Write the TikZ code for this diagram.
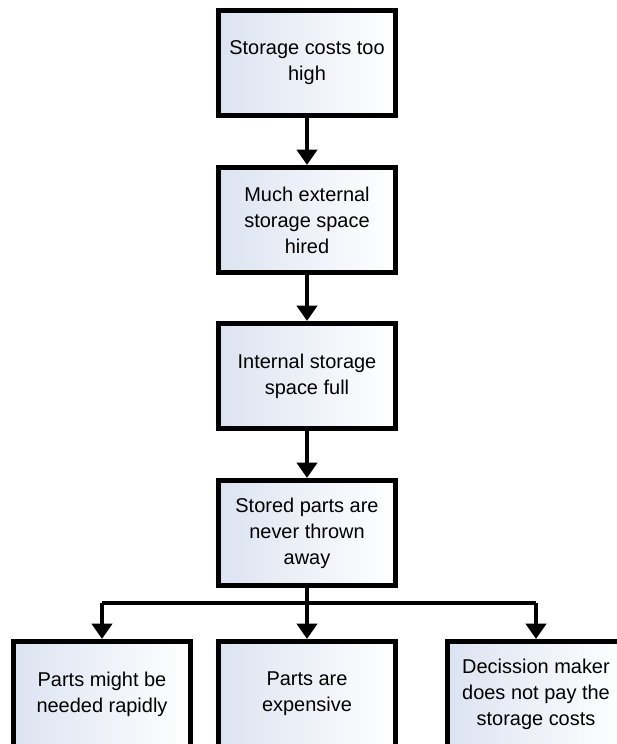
\documentclass[tikz,border=0pt]{standalone}
\usepackage{fontspec}
\setmainfont{Liberation Sans}
\usetikzlibrary{arrows.meta}
\definecolor{boxtint}{HTML}{DCE3F1}

\begin{document}
\begin{tikzpicture}[>={Triangle[length=3.8mm, width=5mm]},
  font=\fontsize{14.2}{18.5}\selectfont,
  cause/.style={draw, line width=3.5pt, minimum width=44.2mm, minimum height=26.3mm,
    align=center, inner sep=2pt, left color=boxtint, right color=white},
  link/.style={line width=2.6pt}]
\useasboundingbox (0,0) rectangle (15.4,-18.6);

%% ===================== main chain =====================
\node[cause] (costs)    at (7.675,-1.575)  {Storage costs too\\high};
\node[cause] (external) at (7.675,-5.5)    {Much external\\storage space\\hired};
\node[cause] (internal) at (7.675,-9.4)    {Internal storage\\space full};
\node[cause] (stored)   at (7.675,-13.325) {Stored parts are\\never thrown\\away};

\draw[link, ->] (costs.south)    -- (external.north);
\draw[link, ->] (external.south) -- (internal.north);
\draw[link, ->] (internal.south) -- (stored.north);

%% ===================== three reasons =====================
\node[cause] (rapid)    at (2.55,-17.35)  {Parts might be\\needed rapidly};
\node[cause] (expense)  at (7.675,-17.35) {Parts are\\expensive};
\node[cause] (decision) at (13.4,-17.35)  {Decission maker\\does not pay the\\storage costs};

%% distribution bar
\coordinate (split) at (7.675,-15.075);
\coordinate (busl)  at (2.55,-15.075);
\coordinate (busr)  at (13.4,-15.075);
\draw[link] (stored.south) -- (split);
\draw[link] (busl) -- (busr);
\draw[link, ->] (busl)  -- (rapid.north);
\draw[link, ->] (split) -- (expense.north);
\draw[link, ->] (busr)  -- (decision.north);

\end{tikzpicture}
\end{document}
